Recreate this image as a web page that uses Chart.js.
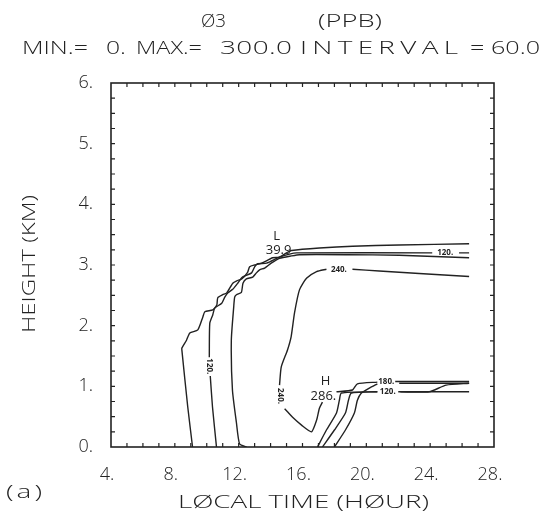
<!DOCTYPE html>
<html>
<head>
<meta charset="utf-8">
<title>O3 (PPB) contour</title>
<script src="https://cdn.jsdelivr.net/npm/chart.js@4.4.1/dist/chart.umd.min.js"></script>
<style>
  html, body { margin: 0; padding: 0; background: #fff; }
  #wrap { width: 544px; height: 521px; }
</style>
</head>
<body>
<div id="wrap"><canvas id="chart" width="544" height="521"></canvas></div>
<script>
// ── Data ───────────────────────────────────────────────────

const xTickValues = [4, 8, 12, 16, 20, 24, 28];
const xTickLabels = ['4.', '8.', '12.', '16.', '20.', '24.', '28.'];
const yTickValues = [0, 1, 2, 3, 4, 5, 6];
const yTickLabels = ['0.', '1.', '2.', '3.', '4.', '5.', '6.'];

// contour lines : local time (hour) / height (km), null = gap left for a label
const c60Hour = [9.11, 8.81, 8.44, 8.44, 8.73, 8.94, 9.44, 9.75, 9.88, 10.38, 10.63, 10.69, 11.00, 11.25, 11.63, 11.88, 12.19, 12.56, 12.69, 13.00, 13.44, 14.13, 14.56, 15.06, 15.31, 17.06, 19.13, 22.06, 26.44];
const c60Km   = [0.00, 0.66, 1.60, 1.63, 1.76, 1.88, 1.93, 2.14, 2.23, 2.26, 2.34, 2.46, 2.51, 2.54, 2.70, 2.74, 2.77, 2.88, 2.97, 3.00, 3.03, 3.12, 3.13, 3.21, 3.24, 3.28, 3.31, 3.33, 3.35];

const c120Hour = [10.61, 10.36, 10.22, null, 10.16, 10.19, 10.38, 10.50, 10.94, 11.13, 11.31, 11.63, 11.94, 12.19, 12.38, 12.81, 13.00, 13.19, 13.75, 14.56, 15.19, 15.63, 24.13, null, 25.81, 26.44];
const c120Km   = [0.00, 0.66, 1.17, null, 1.48, 2.04, 2.18, 2.29, 2.37, 2.47, 2.54, 2.60, 2.70, 2.79, 2.82, 2.87, 2.97, 3.02, 3.03, 3.13, 3.18, 3.20, 3.20, null, 3.20, 3.20];

const c180Hour = [12.50, 12.06, 11.86, 11.61, 11.54, 11.69, 11.75, 11.86, 12.17, 12.27, 12.48, 12.88, 13.11, 13.31, 13.63, 14.04, 14.56, 15.31, 15.81, 18.75, 22.06, 26.44];
const c180Km   = [0.00, 0.05, 0.40, 0.94, 1.76, 2.31, 2.47, 2.51, 2.55, 2.70, 2.77, 2.80, 2.87, 2.92, 2.95, 3.03, 3.11, 3.15, 3.17, 3.17, 3.16, 3.12];

const c240Hour = [26.44, 23.31, 20.81, 19.13, null, 17.50, 16.88, 16.25, 15.81, 15.50, 15.29, 15.06, 14.67, 14.56, null, 14.88, 15.06, 15.38, 15.94, 16.56, 16.88, 17.06, 17.25, null, 18.13, 19.13, 19.44, 20.69, null, 21.81, 26.44];
const c240Km   = [2.81, 2.86, 2.90, 2.93, null, 2.93, 2.89, 2.78, 2.59, 2.21, 1.82, 1.60, 1.32, 1.02, null, 0.63, 0.58, 0.49, 0.36, 0.25, 0.44, 0.64, 0.74, null, 0.91, 0.94, 1.04, 1.07, null, 1.08, 1.08];

// evening lines rising from the surface
const sfcAHour = [16.94, 17.50, 18.13, 18.31, 18.44, 20.69, null, 22.00, 26.44];
const sfcAKm   = [0.00, 0.28, 0.56, 0.77, 0.89, 0.91, null, 0.91, 0.91];
const sfcBHour = [17.25, 18.00, 18.69, 18.88, 19.06, 20.69, null, 22.13, 23.94, 25.00, 26.44];
const sfcBKm   = [0.00, 0.28, 0.56, 0.77, 0.89, 0.91, null, 0.91, 0.91, 1.02, 1.05];
const sfcCHour = [18.00, 18.69, 19.25, 19.44, 19.69, 20.19, 20.69, null, 22.06, 26.44];
const sfcCKm   = [0.00, 0.28, 0.56, 0.77, 0.89, 0.97, 1.04, null, 1.05, 1.05];

// labels written on the lines
const lineLabelText = ['120.', '240.', '240.', '120.', '180.', '120.'];
const lineLabelHour = [10.17, 14.63, 18.28, 24.94, 21.25, 21.34];
const lineLabelKm   = [1.33, 0.84, 2.93, 3.20, 1.08, 0.91];
const lineLabelTurn = [true, true, false, false, false, false];

// low / high markers
const extremaText = ['L', '39.9', 'H', '286.'];
const extremaHour = [14.38, 14.50, 17.44, 17.31];
const extremaKm   = [3.48, 3.25, 1.09, 0.84];

// ── Style ──────────────────────────────────────────────────

const INK = '#222';
const FACE = '"Open Sans", "DejaVu Sans", sans-serif';

function toPoints(hours, kms) {
    return hours.map((h, i) => ({ x: h, y: kms[i] }));
}

function contour(hours, kms) {
    return {
        data: toPoints(hours, kms),
        showLine: true,
        borderColor: INK,
        borderWidth: 1.4,
        pointRadius: 0,
        tension: 0.2,
        spanGaps: false,
        fill: false
    };
}

// plotter lettering : glyphs drawn wider, what is left goes into the gaps
function wide(ctx, text, x0, x1, y) {
    const chars = [...text];
    const widths = chars.map(c => ctx.measureText(c).width);
    const natural = widths.reduce((a, b) => a + b, 0);
    const s = Math.max(1, Math.min(1.55, (x1 - x0) / natural));
    const gap = chars.length > 1 ? (x1 - x0 - natural * s) / (chars.length - 1) : 0;
    let x = x0;
    chars.forEach((c, i) => {
        ctx.save();
        ctx.translate(x, y);
        ctx.scale(s, 1);
        ctx.fillText(c, 0, 0);
        ctx.restore();
        x += widths[i] * s + gap;
    });
}

// Plugin : frame, inward ticks, headers and labels
const plotterPlugin = {
    id: 'plotter',
    afterDraw(chart) {
        const { ctx, chartArea: a, scales: { x, y } } = chart;
        ctx.save();

        ctx.strokeStyle = INK;
        ctx.lineWidth = 1.6;
        ctx.strokeRect(a.left, a.top, a.right - a.left, a.bottom - a.top);

        ctx.lineWidth = 1.2;
        ctx.beginPath();
        for (let h = x.min + 1; h < x.max; h++) {
            const px = x.getPixelForValue(h);
            ctx.moveTo(px, a.bottom); ctx.lineTo(px, a.bottom - 4);
            ctx.moveTo(px, a.top); ctx.lineTo(px, a.top + 4);
        }
        for (let k = y.min + 0.25; k < y.max - 0.01; k += 0.25) {
            const py = y.getPixelForValue(k);
            ctx.moveTo(a.left, py); ctx.lineTo(a.left + 4, py);
            ctx.moveTo(a.right, py); ctx.lineTo(a.right - 4, py);
        }
        ctx.stroke();

        ctx.fillStyle = INK;
        ctx.textAlign = 'left';
        ctx.textBaseline = 'middle';

        // Header
        ctx.font = `300 18px ${FACE}`;
        wide(ctx, 'Ø3', 201, 226, 22);
        wide(ctx, '(PPB)', 318, 382, 22);
        wide(ctx, 'MIN.=', 22, 88, 49);
        wide(ctx, '0.', 106, 126, 49);
        wide(ctx, 'MAX.=', 136, 202, 49);
        wide(ctx, '300.0', 220, 292, 49);
        wide(ctx, 'INTERVAL', 300, 458, 49);
        wide(ctx, '= 60.0', 470, 540, 49);

        // Axis titles
        wide(ctx, 'LØCAL TIME (HØUR)', 178, 429, 503);
        wide(ctx, '(a)', 6, 42, 493);
        ctx.save();
        ctx.translate(30, 264);
        ctx.rotate(-Math.PI / 2);
        wide(ctx, 'HEIGHT (KM)', -69, 69, 0);
        ctx.restore();

        // Line labels
        ctx.textAlign = 'center';
        ctx.font = `bold 8px ${FACE}`;
        lineLabelText.forEach((t, i) => {
            const px = x.getPixelForValue(lineLabelHour[i]);
            const py = y.getPixelForValue(lineLabelKm[i]);
            ctx.save();
            ctx.translate(px, py);
            if (lineLabelTurn[i]) ctx.rotate(Math.PI / 2);
            ctx.fillText(t, 0, 0);
            ctx.restore();
        });

        // Low / high
        ctx.font = `13px ${FACE}`;
        extremaText.forEach((t, i) => {
            ctx.fillText(t, x.getPixelForValue(extremaHour[i]), y.getPixelForValue(extremaKm[i]));
        });

        ctx.restore();
    }
};

const tickFont = { family: FACE, size: 18, weight: 300 };

new Chart(document.getElementById('chart'), {
    type: 'scatter',
    data: {
        datasets: [
            contour(c60Hour, c60Km),
            contour(c120Hour, c120Km),
            contour(c180Hour, c180Km),
            contour(c240Hour, c240Km),
            contour(sfcAHour, sfcAKm),
            contour(sfcBHour, sfcBKm),
            contour(sfcCHour, sfcCKm)
        ]
    },
    plugins: [plotterPlugin],
    options: {
        responsive: false,
        animation: false,
        events: [],
        layout: { padding: { top: 83, right: 50, bottom: 0, left: 0 } },
        plugins: {
            legend: { display: false },
            tooltip: { enabled: false }
        },
        scales: {
            x: {
                type: 'linear',
                min: 4,
                max: 28,
                afterBuildTicks: s => { s.ticks = xTickValues.map(v => ({ value: v })); },
                afterFit: s => { s.height = 74; },
                grid: { display: false, drawTicks: false },
                border: { display: false },
                ticks: {
                    font: tickFont,
                    color: INK,
                    padding: 17,
                    labelOffset: -4,
                    maxRotation: 0,
                    autoSkip: false,
                    callback: (v, i) => xTickLabels[i]
                }
            },
            y: {
                type: 'linear',
                min: 0,
                max: 6,
                afterBuildTicks: s => { s.ticks = yTickValues.map(v => ({ value: v })); },
                afterFit: s => { s.width = 111; },
                grid: { display: false, drawTicks: false },
                border: { display: false },
                ticks: {
                    font: tickFont,
                    color: INK,
                    padding: 18,
                    autoSkip: false,
                    callback: (v, i) => yTickLabels[i]
                }
            }
        }
    }
});
</script>
</body>
</html>
